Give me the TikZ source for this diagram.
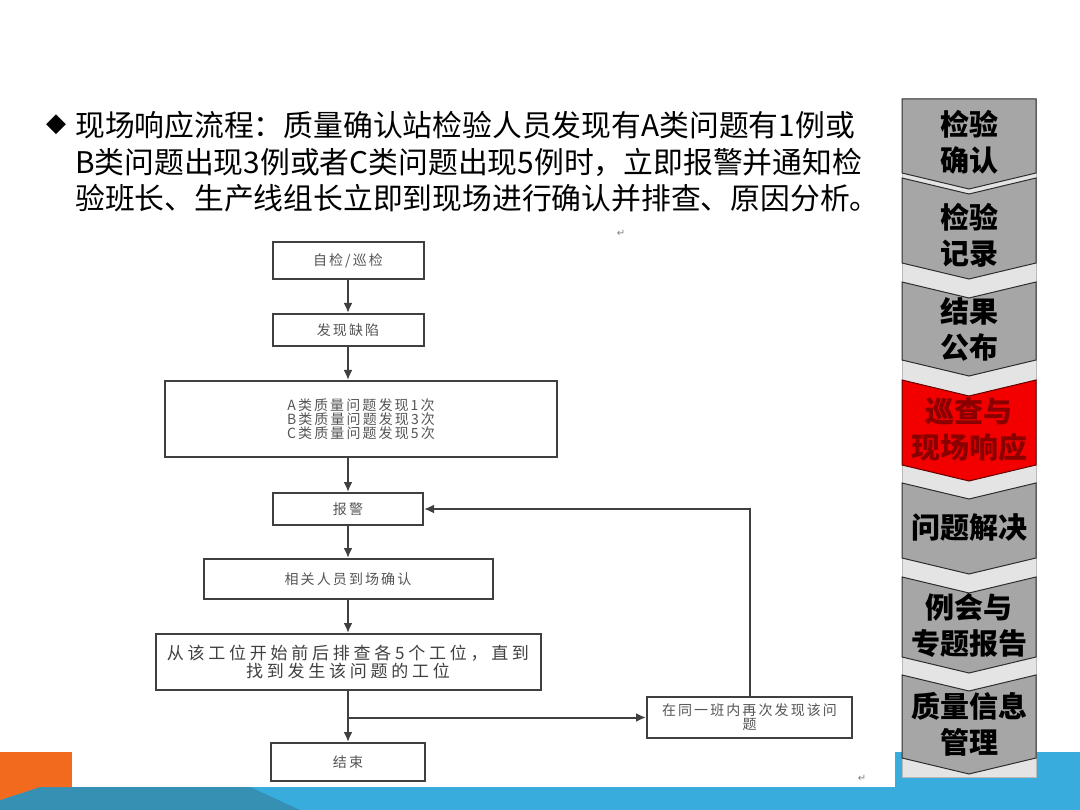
\documentclass[tikz,border=0pt]{standalone}
\usepackage{fontspec}
\setmainfont{Noto Sans CJK SC}
\newfontfamily\cjk{Noto Sans CJK SC}
\newfontfamily\djv{DejaVu Sans}
\usetikzlibrary{arrows.meta}
\definecolor{boxline}{HTML}{404040}
\definecolor{boxtext}{HTML}{555555}
\definecolor{chevgray}{HTML}{A6A6A6}
\definecolor{chevred}{HTML}{F20000}
\definecolor{chevredtext}{HTML}{8A0000}
\definecolor{panelgray}{HTML}{E4E4E4}
\definecolor{bandblue}{HTML}{38ACDC}
\definecolor{bandteal}{HTML}{3590B4}
\definecolor{bandorange}{HTML}{F26A1E}
\newcommand\smalltxt{\cjk\fontsize{14}{14}\selectfont\addfontfeature{LetterSpace=15}}
\newcommand\midtxt{\cjk\fontsize{17}{16}\selectfont\addfontfeature{LetterSpace=22}}
\newcommand\chevtxt{\cjk\bfseries\fontsize{29}{36}\selectfont}
\newcommand\titletxt{\cjk\fontsize{29.8}{37}\selectfont}
\begin{document}
\begin{tikzpicture}[x=1pt,y=-1pt,
  fbox/.style={draw=boxline, line width=2pt, fill=white, inner sep=0pt, font=\smalltxt, text=boxtext, align=center},
  arr/.style={draw=boxline, line width=2pt, -{Latex[length=10pt,width=9pt]}},
  chev/.style={fill=chevgray, draw=gray!35!black, line width=1pt},
  chevr/.style={fill=chevred, draw=red!40!black, line width=1pt},
  chevlabel/.style={font=\chevtxt, align=center, text=black, inner sep=0pt},
  titleline/.style={font=\titletxt, anchor=west, inner sep=0pt, text=black},
  retmark/.style={font=\djv\fontsize{10}{10}\selectfont, text=gray, inner sep=0pt}]
\useasboundingbox (0,0) rectangle (1080,810);
% background
\fill[white] (0,0) rectangle (1080,810);
\fill[bandblue] (0,752) rectangle (1080,810);
\fill[bandteal] (0,800) -- (40,787) -- (250,787) -- (300,810) -- (0,810) -- cycle;
\fill[bandorange] (0,752) -- (72,752) -- (72,787) -- (40,787) -- (0,800) -- cycle;
\fill[white] (72,0) rectangle (895,787);
% title
\node[font=\djv\fontsize{26}{26}\selectfont, inner sep=0pt] (bullet) at (56,125) {◆};
\node[titleline] (t1) at (75,125) {现场响应流程：质量确认站检验人员发现有A类问题有1例或};
\node[titleline] (t2) at (75,162) {B类问题出现3例或者C类问题出现5例时，立即报警并通知检};
\node[titleline] (t3) at (75,198) {验班长、生产线组长立即到现场进行确认并排查、原因分析。};
% flowchart
\node[fbox, minimum width=151pt, minimum height=37pt] (n1) at (348,260.5) {自检/巡检};
\node[fbox, minimum width=151pt, minimum height=32pt] (n2) at (348,330) {发现缺陷};
\node[fbox, minimum width=392pt, minimum height=76pt] (n3) at (361,419) {A类质量问题发现1次\\B类质量问题发现3次\\C类质量问题发现5次};
\node[fbox, minimum width=150pt, minimum height=32pt] (n4) at (348,509) {报警};
\node[fbox, minimum width=289pt, minimum height=40pt] (n5) at (348,579) {相关人员到场确认};
\node[fbox, minimum width=385pt, minimum height=56pt, font=\midtxt, text=boxline] (n6) at (348,662) {从该工位开始前后排查各5个工位，直到\\找到发生该问题的工位};
\node[fbox, minimum width=154pt, minimum height=38pt] (n7) at (348,762) {结束};
\node[fbox, minimum width=205pt, minimum height=41pt] (n8) at (749.5,717.5) {在同一班内再次发现该问\\题};
\coordinate (br) at (348,717.5);
\draw[arr] (n1) -- (n2);
\draw[arr] (n2.south) -- (n2.south |- n3.north);
\draw[arr] (n4.north |- n3.south) -- (n4.north);
\draw[arr] (n4) -- (n5);
\draw[arr] (n5) -- (n6);
\draw[arr] (n6) -- (br) -- (n7);
\draw[arr] (br) -- (n8);
\draw[arr] (n8.north) |- (n4.east);
\node[retmark] (r1) at (621,233) {↵};
\node[retmark] (r2) at (862,778) {↵};
% side panel
\path[fill=panelgray, draw=gray!55] (902,99) rectangle (1036,777);
\path[chev] (902,99) -- (1036,99) -- (1036,173) -- (969,189) -- (902,173) -- cycle;
\path[chev] (902,178) -- (969,194) -- (1036,178) -- (1036,263) -- (969,279) -- (902,263) -- cycle;
\path[chev] (902,282) -- (969,298) -- (1036,282) -- (1036,360) -- (969,376) -- (902,360) -- cycle;
\path[chevr] (902,380) -- (969,396) -- (1036,380) -- (1036,465) -- (969,481) -- (902,465) -- cycle;
\path[chev] (902,483) -- (969,499) -- (1036,483) -- (1036,558) -- (969,574) -- (902,558) -- cycle;
\path[chev] (902,577) -- (969,593) -- (1036,577) -- (1036,657) -- (969,673) -- (902,657) -- cycle;
\path[chev] (902,675) -- (969,691) -- (1036,675) -- (1036,758) -- (969,774) -- (902,758) -- cycle;
\node[chevlabel] (c1) at (969,142) {检验\\确认};
\node[chevlabel] (c2) at (969,235) {检验\\记录};
\node[chevlabel] (c3) at (969,329) {结果\\公布};
\node[chevlabel, text=chevredtext] (c4) at (969,430) {巡查与\\现场响应};
\node[chevlabel] (c5) at (969,528) {问题解决};
\node[chevlabel] (c6) at (969,625) {例会与\\专题报告};
\node[chevlabel] (c7) at (969,724) {质量信息\\管理};
\end{tikzpicture}
\end{document}
